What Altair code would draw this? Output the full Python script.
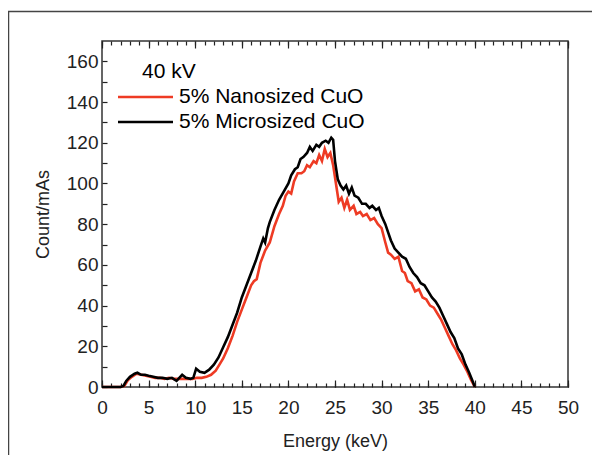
import altair as alt
import pandas as pd

# ---------------- data ----------------
series_names = ["5% Nanosized CuO", "5% Microsized CuO"]
series_colors = ["#ee3b24", "#000000"]
legend_title = "40 kV"

energy_nano = [0, 1, 2.0, 2.4, 2.8, 3.2, 3.7, 4.2, 4.7, 5.2, 5.7, 6.2, 6.7, 7.2, 7.7, 8.2, 8.7,
               9.2, 9.7, 10.2, 10.7, 11.2, 11.7, 12.2, 12.6, 13.0, 13.5, 14.0, 14.5, 15.0, 15.5,
               16.0, 16.3, 16.6, 17.0, 17.5, 18.0, 18.5, 19.0, 19.4, 19.7, 20.0, 20.3, 20.6, 21.0,
               21.4, 21.7, 22.0, 22.3, 22.7, 23.0, 23.3, 23.6, 23.9, 24.2, 24.5, 24.8, 25.1, 25.4,
               25.7, 26.0, 26.3, 26.6, 27.0, 27.3, 27.7, 28.0, 28.4, 28.8, 29.2, 29.6, 30.0, 30.4,
               30.7, 31.0, 31.4, 31.8, 32.2, 32.5, 32.8, 33.2, 33.6, 34.0, 34.4, 34.8, 35.2, 35.6,
               36.0, 36.4, 36.8, 37.2, 37.6, 38.0, 38.4, 38.8, 39.2, 39.6, 40.0]
count_nano = [0, 0, 0, 0.5, 3.5, 5, 6.5, 6, 5.5, 5, 4.5, 4.5, 4, 4.5, 4, 4, 4,
              4, 4, 4.5, 4.5, 5, 6, 8, 11, 14, 19, 25, 32, 38, 44,
              50, 52, 53, 61, 67, 71, 79, 85, 89, 94, 96, 95, 101, 105,
              105, 106, 109, 108, 111, 110, 114, 111, 117, 113, 115, 109, 100, 91,
              93, 88, 92, 87, 89, 85, 86, 84, 85, 82, 83, 80, 78, 71,
              66, 65, 63, 64, 57, 56, 52, 51, 47, 48, 44, 43, 40, 39,
              36, 33, 29, 25, 21, 18, 14, 11, 7.5, 3.5, 0]

energy_micro = [0, 1, 2.0, 2.3, 2.6, 3.0, 3.5, 3.8, 4.2, 4.6, 5.0, 5.5, 6.0, 6.5, 7.0, 7.5, 8.0,
                8.6, 9.0, 9.5, 9.8, 10.1, 10.5, 11.0, 11.5, 12.0, 12.5, 13.0, 13.5, 14.0, 14.5,
                15.0, 15.5, 16.0, 16.5, 17.0, 17.3, 17.5, 17.8, 18.0, 18.5, 19.0, 19.5, 20.0, 20.3,
                20.7, 21.0, 21.3, 21.6, 22.0, 22.3, 22.6, 23.0, 23.3, 23.6, 24.0, 24.3, 24.6, 24.8,
                25.0, 25.3, 25.6, 25.9, 26.2, 26.5, 26.8, 27.1, 27.5, 27.9, 28.3, 28.7, 29.0, 29.4,
                29.7, 30.0, 30.4, 30.7, 31.0, 31.4, 31.8, 32.2, 32.6, 33.0, 33.4, 33.8, 34.2, 34.6,
                35.0, 35.4, 35.8, 36.2, 36.6, 37.0, 37.4, 37.8, 38.2, 38.6, 39.0, 39.4, 39.8, 40.0]
count_micro = [0, 0, 0, 0.5, 3, 5, 6.5, 7, 6, 6, 5.5, 5, 4.5, 4.5, 4, 4.5, 3,
               6, 4.5, 4, 4.5, 9, 7.5, 7, 8.5, 11, 14.5, 19.5, 24.5, 30.5, 36.5,
               44, 50, 56, 62, 69, 73, 71, 78, 81, 87, 92, 96, 100, 104,
               107, 108, 112, 113, 115, 118, 116, 119, 118, 120, 121, 120, 122.5, 121.5,
               111, 102, 99, 97, 99, 95, 98, 94, 93, 90, 90, 88, 89, 87,
               88, 84, 80, 76, 72, 68, 66, 64, 63, 59, 56, 54, 51, 50,
               47, 44, 42, 39, 35, 31, 27, 24, 19, 16, 11, 7, 2.5, 0]

x_major_ticks = list(range(0, 51, 5))
x_minor_ticks = list(range(0, 51, 1))
y_ticks = list(range(0, 161, 10))

df_nano = pd.DataFrame({"Energy": energy_nano, "Count": count_nano})
df_micro = pd.DataFrame({"Energy": energy_micro, "Count": count_micro})
df_one = pd.DataFrame({"k": [0]})

AX_FONT = "Liberation Sans"
LEG_FONT = "Liberation Sans"
INK = "#222222"

xscale = alt.Scale(domain=[0, 50], nice=False, zero=False)
yscale = alt.Scale(domain=[0, 170], nice=False, zero=False)

axis_common = dict(domain=False, grid=False, tickColor=INK, tickWidth=1.2)

x_bottom = alt.Axis(orient="bottom", values=x_major_ticks, tickSize=7, offset=-7,
                    labelFont=AX_FONT, labelFontSize=19, labelColor=INK, labelPadding=11,
                    labelFlush=False, labelOverlap=False,
                    title="Energy (keV)", titleFont=AX_FONT, titleFontSize=18,
                    titleFontWeight="normal", titleColor=INK, titlePadding=15, **axis_common)
x_top = alt.Axis(orient="top", values=x_major_ticks, tickSize=7, offset=-7, labels=False,
                 title=None, **axis_common)
x_bottom_minor = alt.Axis(orient="bottom", values=x_minor_ticks, tickSize=4, offset=-4,
                          labels=False, title=None, **axis_common)
x_top_minor = alt.Axis(orient="top", values=x_minor_ticks, tickSize=4, offset=-4,
                       labels=False, title=None, **axis_common)
y_left = alt.Axis(orient="left", values=y_ticks, tickSize=5, offset=-5,
                  labelExpr="datum.value % 20 == 0 ? datum.label : ''",
                  labelFont=AX_FONT, labelFontSize=19, labelColor=INK, labelPadding=4,
                  labelOverlap=False,
                  title="Count/mAs", titleFont=AX_FONT, titleFontSize=18,
                  titleFontWeight="normal", titleColor=INK, titlePadding=14, **axis_common)

frame = alt.Chart(df_one).mark_rect(filled=False, stroke="#444444", strokeWidth=1.5).encode(
    x=alt.value(-93.5), x2=alt.value(700), y=alt.value(-29.5), y2=alt.value(700))

red_line = alt.Chart(df_nano).mark_line(color=series_colors[0], strokeWidth=2.6).encode(
    x=alt.X("Energy:Q", scale=xscale, axis=x_bottom),
    y=alt.Y("Count:Q", scale=yscale, axis=y_left))

black_line = alt.Chart(df_micro).mark_line(color=series_colors[1], strokeWidth=2.6).encode(
    x=alt.X("Energy:Q", scale=xscale, axis=x_top),
    y=alt.Y("Count:Q", scale=yscale, axis=None))

minor_b = alt.Chart(df_micro).mark_point(opacity=0).encode(
    x=alt.X("Energy:Q", scale=xscale, axis=x_bottom_minor),
    y=alt.Y("Count:Q", scale=yscale, axis=None))
minor_t = alt.Chart(df_micro).mark_point(opacity=0).encode(
    x=alt.X("Energy:Q", scale=xscale, axis=x_top_minor),
    y=alt.Y("Count:Q", scale=yscale, axis=None))

leg_title = alt.Chart(df_one).mark_text(align="left", baseline="middle", font=LEG_FONT,
                                        fontSize=21, color="#000").encode(
    x=alt.value(40), y=alt.value(31), text=alt.value(legend_title))

leg_layers = []
for i, (name, col) in enumerate(zip(series_names, series_colors)):
    yy = 56 + 25 * i
    leg_layers.append(alt.Chart(df_one).mark_rule(color=col, strokeWidth=2.3).encode(
        x=alt.value(16), x2=alt.value(71), y=alt.value(yy)))
    leg_layers.append(alt.Chart(df_one).mark_text(align="left", baseline="middle", font=LEG_FONT,
                                                  fontSize=21, color="#000").encode(
        x=alt.value(77), y=alt.value(yy), text=alt.value(name)))

chart = alt.layer(frame, minor_b, minor_t, red_line, black_line, leg_title, *leg_layers).resolve_axis(
    x="independent", y="independent"
).properties(
    width=466, height=346,
    padding={"left": 94, "top": 33, "right": 24, "bottom": 68},
    autosize=alt.AutoSizeParams(type="none"),
    background="white",
).configure_view(stroke="#333333", strokeWidth=1.5)

chart.save("out.html", embed_options={"renderer": "svg", "actions": False})
